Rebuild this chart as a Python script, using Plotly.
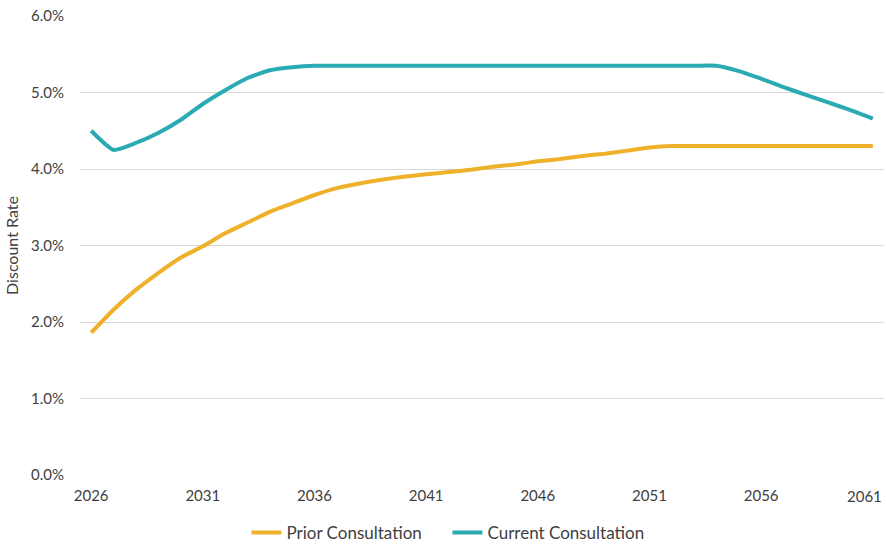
import plotly.graph_objects as go

years = list(range(2026, 2062))

prior_consultation = [
    1.86, 2.16, 2.42, 2.64, 2.84, 2.99, 3.16, 3.30, 3.44, 3.55,
    3.66, 3.75, 3.81, 3.86, 3.90, 3.93, 3.96, 3.99, 4.03, 4.06,
    4.10, 4.13, 4.17, 4.20, 4.24, 4.28, 4.30, 4.30, 4.30, 4.30,
    4.30, 4.30, 4.30, 4.30, 4.30, 4.30,
]

current_consultation = [
    4.50, 4.25, 4.34, 4.47, 4.64, 4.85, 5.03, 5.19, 5.29, 5.33,
    5.35, 5.35, 5.35, 5.35, 5.35, 5.35, 5.35, 5.35, 5.35, 5.35,
    5.35, 5.35, 5.35, 5.35, 5.35, 5.35, 5.35, 5.35, 5.35, 5.28,
    5.18, 5.07, 4.97, 4.87, 4.77, 4.66,
]

x_tick_years = [2026, 2031, 2036, 2041, 2046, 2051, 2056, 2061]
y_ticks = [0, 1, 2, 3, 4, 5, 6]

FONT = "Lato, Calibri, Carlito, sans-serif"
TEXT = "#404040"

fig = go.Figure()
fig.add_trace(go.Scatter(
    x=years, y=prior_consultation, mode="lines", name="Prior Consultation",
    line=dict(color="#EFB02A", width=4, shape="spline", smoothing=0.5),
))
fig.add_trace(go.Scatter(
    x=years, y=current_consultation, mode="lines", name="Current Consultation",
    line=dict(color="#2AAAB2", width=4, shape="spline", smoothing=0.5),
))

# The last year label sits against the right edge, so it is placed as
# a right-aligned annotation to keep it inside the page.
last_year = x_tick_years[-1]
fig.add_annotation(
    x=1, xref="paper", xanchor="right",
    y=0, yref="paper", yanchor="top", yshift=-10,
    text=str(last_year), showarrow=False,
    font=dict(family=FONT, size=15, color=TEXT),
)

fig.update_layout(
    width=886, height=547,
    margin=dict(l=80, r=2, t=16, b=72, autoexpand=False),
    paper_bgcolor="white", plot_bgcolor="white",
    font=dict(family=FONT, size=15, color=TEXT),
    showlegend=True,
    legend=dict(
        orientation="h", x=0.457, xanchor="center", y=-0.126, yanchor="middle",
        font=dict(family=FONT, size=17, color=TEXT),
        itemwidth=30, tracegroupgap=0, entrywidth=156,
    ),
    xaxis=dict(
        range=[2025.5, 2061.5],
        tickmode="array", tickvals=x_tick_years[:-1],
        ticktext=[str(y) for y in x_tick_years[:-1]],
        showgrid=False, zeroline=False, showline=False,
        ticks="", ticklen=0, ticklabelstandoff=10,
        automargin=False,
        tickfont=dict(family=FONT, size=15, color=TEXT),
    ),
    yaxis=dict(
        range=[0, 6],
        tickmode="array", tickvals=y_ticks,
        ticktext=[f"{v:.1f}%" for v in y_ticks],
        showgrid=True, gridcolor="#D9D9D9", gridwidth=1,
        zeroline=False, showline=False, automargin=False,
        tickfont=dict(family=FONT, size=15, color=TEXT),
        ticklabelstandoff=15,
        title=dict(text="Discount Rate", standoff=8,
                   font=dict(family=FONT, size=16, color=TEXT)),
    ),
)

fig.write_html("out.html")
